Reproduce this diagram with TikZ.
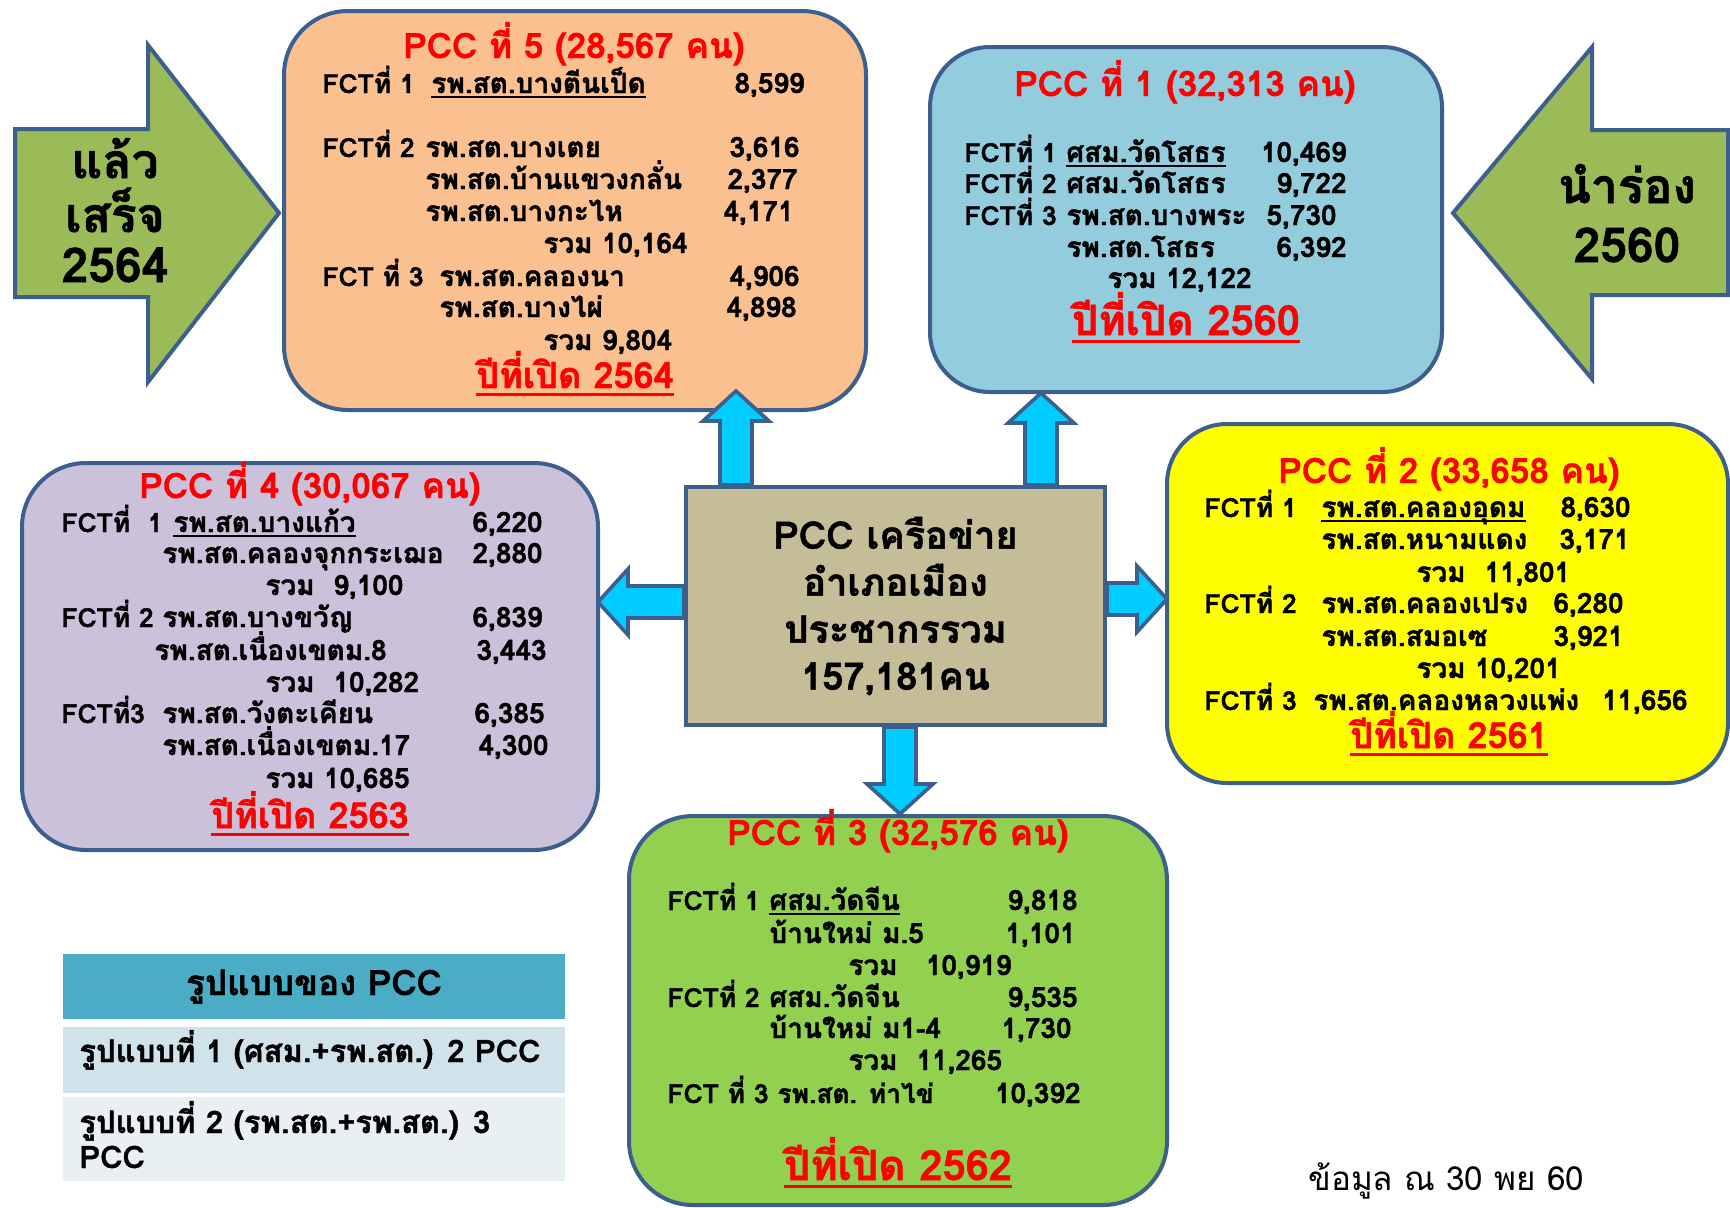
\documentclass[tikz,border=0pt]{standalone}
\usepackage{fontspec}
\setmainfont{Loma}[Script=Thai, BoldFeatures={FakeBold=1.3}]
\usepackage{tikz}
\usetikzlibrary{calc}

\definecolor{rim}{HTML}{3C5F8E}
\definecolor{peach}{HTML}{FAC090}
\definecolor{skyish}{HTML}{93CDDD}
\definecolor{lilac}{HTML}{CCC1DA}
\definecolor{lemon}{HTML}{FFFF00}
\definecolor{grass}{HTML}{92D050}
\definecolor{khaki}{HTML}{C4BD97}
\definecolor{leaf}{HTML}{9BBB59}
\definecolor{cyanlink}{HTML}{00CCFF}
\definecolor{headteal}{HTML}{4BACC6}
\definecolor{rowone}{HTML}{D0E3EA}
\definecolor{rowtwo}{HTML}{E9F0F4}

\newcommand\ulin[1]{\setbox0\hbox{#1}\rlap{\rule[-2.6pt]{\wd0}{1pt}}\box0}
\newcommand\ulyear[1]{\setbox0\hbox{#1}\rlap{\rule[-4pt]{\wd0}{1.5pt}}\box0}
\newcommand\fatlink[2]{%
  \path ($(#2)!15pt!(#1)$) coordinate (hb);
  \draw[link] ($(#1)!8pt!90:(#2)$) -- ($(hb)!8pt!-90:(#1)$) -- ($(hb)!16.5pt!-90:(#1)$) -- (#2)
    -- ($(hb)!16.5pt!90:(#1)$) -- ($(hb)!8pt!90:(#1)$) -- ($(#1)!8pt!-90:(#2)$) -- cycle;}

\tikzset{
  pcc/.style={draw=rim, line width=2pt, rounded corners=32pt, inner sep=0pt},
  bigarrow/.style={draw=rim, line width=2pt, fill=leaf, line join=miter},
  link/.style={draw=rim, line width=1.8pt, fill=cyanlink, line join=miter},
  row/.style={inner sep=0pt, font=\bfseries\fontsize{14}{16}\selectfont},
  lt/.style={row, anchor=base west},
  rt/.style={row, anchor=base east},
  fct/.style={lt, font=\bfseries\fontsize{13.2}{16}\selectfont},
  pcctitle/.style={inner sep=0pt, anchor=base, text=red, font=\bfseries\fontsize{17.5}{19}\selectfont},
  yearline/.style={inner sep=0pt, anchor=base, text=red, font=\bfseries\fontsize{18}{20}\selectfont},
  bignote/.style={inner sep=0pt, anchor=base, font=\bfseries\fontsize{24}{26}\selectfont},
  legend/.style={inner sep=0pt, font=\bfseries\fontsize{15.5}{17}\selectfont},
}

\begin{document}
\begin{tikzpicture}[x=0.5pt, y=-0.5pt]
  \useasboundingbox (0,0) rectangle (1730,1207);

  % big arrows
  \draw[bigarrow] (15,129) -- (148,129) -- (148,45) -- (279,213) -- (148,382) -- (148,297) -- (15,297) -- cycle;
  \draw[bigarrow] (1728,130) -- (1592,130) -- (1592,47) -- (1453,213) -- (1592,379) -- (1592,295) -- (1728,295) -- cycle;
  \node[bignote] (done1) at (115,178) {แล้ว};
  \node[bignote] (done2) at (115,232) {เสร็จ};
  \node[bignote] (done3) at (115,282) {2564};
  \node[bignote] (pilot1) at (1627,203) {นำร่อง};
  \node[bignote] (pilot2) at (1627,262) {2560};

  % PCC boxes
  \node[pcc, fill=peach, minimum width=291pt, minimum height=199.5pt] (p5) at (575,210.5) {};
  \node[pcc, fill=skyish, minimum width=256pt, minimum height=172.5pt, rounded corners=30pt] (p1) at (1186,219.5) {};
  \node[pcc, fill=lilac, minimum width=288pt, minimum height=193.5pt] (p4) at (310,656.5) {};
  \node[pcc, fill=lemon, minimum width=280.5pt, minimum height=179.5pt, rounded corners=30pt] (p2) at (1447.5,603.5) {};
  \node[pcc, fill=grass, minimum width=269pt, minimum height=194.5pt] (p3) at (898,1010.5) {};

  \node[draw=rim, line width=2pt, fill=khaki, minimum width=209.5pt, minimum height=119pt, inner sep=0pt,
        align=center, font=\bfseries\fontsize{19}{23.5}\selectfont] (ctr) at (895.5,606)
        {PCC เครือข่าย\\อำเภอเมือง\\ประชากรรวม\\157,181คน};

  % links from the centre
  \coordinate (t5) at (736,391);
  \coordinate (t1) at (1041,393);
  \coordinate (t2) at (1167,599);
  \coordinate (t4) at (598,602);
  \coordinate (t3) at (900,814);
  \coordinate (b5) at (t5 |- ctr.north);
  \coordinate (b1) at (t1 |- ctr.north);
  \coordinate (b2) at (ctr.east |- t2);
  \coordinate (b4) at (ctr.west |- t4);
  \coordinate (b3) at (t3 |- ctr.south);
  \fatlink{b5}{t5}
  \fatlink{b1}{t1}
  \fatlink{b2}{t2}
  \fatlink{b4}{t4}
  \fatlink{b3}{t3}

  % PCC 5
  \node[pcctitle] (p5t) at (574,58) {PCC ที่ 5 (28,567 คน)};
  \node[fct] (p5f1) at (322,93) {FCTที่ 1};
  \node[lt] (p5a) at (431,93) {\ulin{รพ.สต.บางตีนเป็ด}};
  \node[rt] (p5n1) at (805,93) {8,599};
  \node[fct] (p5f2) at (322,157) {FCTที่ 2};
  \node[lt] (p5b) at (425,157) {รพ.สต.บางเตย};
  \node[rt] (p5n2) at (800,157) {3,616};
  \node[lt] (p5c) at (425,189) {รพ.สต.บ้านแขวงกลั่น};
  \node[rt] (p5n3) at (798,189) {2,377};
  \node[lt] (p5d) at (425,221) {รพ.สต.บางกะไห};
  \node[rt] (p5n4) at (794,221) {4,171};
  \node[lt] (p5s2) at (543,253) {รวม 10,164};
  \node[fct] (p5f3) at (322,286) {FCT ที่ 3};
  \node[lt] (p5e) at (439,286) {รพ.สต.คลองนา};
  \node[rt] (p5n5) at (800,286) {4,906};
  \node[lt] (p5g) at (439,317) {รพ.สต.บางไผ่};
  \node[rt] (p5n6) at (797,317) {4,898};
  \node[lt] (p5s3) at (543,350) {รวม 9,804};
  \node[yearline] (p5y) at (575,388) {\ulyear{ปีที่เปิด 2564}};

  % PCC 1
  \node[pcctitle] (p1t) at (1185,96) {PCC ที่ 1 (32,313 คน)};
  \node[fct] (p1f1) at (964,162) {FCTที่ 1};
  \node[lt] (p1a) at (1066,162) {\ulin{ศสม.วัดโสธร}};
  \node[rt] (p1n1) at (1347,162) {10,469};
  \node[fct] (p1f2) at (964,193) {FCTที่ 2};
  \node[lt] (p1b) at (1066,193) {ศสม.วัดโสธร};
  \node[rt] (p1n2) at (1347,193) {9,722};
  \node[fct] (p1f3) at (964,225) {FCTที่ 3};
  \node[lt] (p1c) at (1066,225) {รพ.สต.บางพระ};
  \node[rt] (p1n3) at (1337,225) {5,730};
  \node[lt] (p1d) at (1066,257) {รพ.สต.โสธร};
  \node[rt] (p1n4) at (1347,257) {6,392};
  \node[lt] (p1s) at (1107,288) {รวม 12,122};
  \node[yearline, font=\bfseries\fontsize{20.8}{22}\selectfont] (p1y) at (1186,335) {\ulyear{ปีที่เปิด 2560}};

  % PCC 4
  \node[pcctitle] (p4t) at (310,498) {PCC ที่ 4 (30,067 คน)};
  \node[fct] (p4f1) at (61,532) {FCTที่ \ 1};
  \node[lt] (p4a) at (173,532) {\ulin{รพ.สต.บางแก้ว}};
  \node[rt] (p4n1) at (543,532) {6,220};
  \node[lt] (p4b) at (162,563) {รพ.สต.คลองจุกกระเฌอ};
  \node[rt] (p4n2) at (543,563) {2,880};
  \node[lt] (p4s1) at (265,595) {รวม \ 9,100};
  \node[fct] (p4f2) at (61,627) {FCTที่ 2};
  \node[lt] (p4c) at (162,627) {รพ.สต.บางขวัญ};
  \node[rt] (p4n3) at (543,627) {6,839};
  \node[lt] (p4d) at (154,660) {รพ.สต.เนื่องเขตม.8};
  \node[rt] (p4n4) at (547,660) {3,443};
  \node[lt] (p4s2) at (265,692) {รวม \ 10,282};
  \node[fct] (p4f3) at (61,723) {FCTที่3};
  \node[lt] (p4e) at (162,723) {รพ.สต.วังตะเคียน};
  \node[rt] (p4n5) at (545,723) {6,385};
  \node[lt] (p4g) at (162,755) {รพ.สต.เนื่องเขตม.17};
  \node[rt] (p4n6) at (549,755) {4,300};
  \node[lt] (p4s3) at (265,788) {รวม 10,685};
  \node[yearline] (p4y) at (310,828) {\ulyear{ปีที่เปิด 2563}};

  % PCC 2
  \node[pcctitle] (p2t) at (1449,483) {PCC ที่ 2 (33,658 คน)};
  \node[fct] (p2f1) at (1204,517) {FCTที่ 1};
  \node[lt] (p2a) at (1321,517) {\ulin{รพ.สต.คลองอุดม}};
  \node[rt] (p2n1) at (1631,517) {8,630};
  \node[lt] (p2b) at (1321,549) {รพ.สต.หนามแดง};
  \node[rt] (p2n2) at (1630,549) {3,171};
  \node[lt] (p2s1) at (1416,582) {รวม \ 11,801};
  \node[fct] (p2f2) at (1204,613) {FCTที่ 2};
  \node[lt] (p2c) at (1321,613) {รพ.สต.คลองเปรง};
  \node[rt] (p2n3) at (1624,613) {6,280};
  \node[lt] (p2d) at (1321,646) {รพ.สต.สมอเซ};
  \node[rt] (p2n4) at (1624,646) {3,921};
  \node[lt] (p2s2) at (1416,678) {รวม 10,201};
  \node[fct] (p2f3) at (1204,710) {FCTที่ 3};
  \node[lt] (p2e) at (1313,710) {รพ.สต.คลองหลวงแพ่ง};
  \node[rt] (p2n5) at (1688,710) {11,656};
  \node[yearline] (p2y) at (1449,748) {\ulyear{ปีที่เปิด 2561}};

  % PCC 3
  \node[pcctitle] (p3t) at (898,845) {PCC ที่ 3 (32,576 คน)};
  \node[fct] (p3f1) at (667,910) {FCTที่ 1};
  \node[lt] (p3a) at (769,910) {\ulin{ศสม.วัดจีน}};
  \node[rt] (p3n1) at (1078,910) {9,818};
  \node[lt] (p3b) at (769,943) {บ้านใหม่ ม.5};
  \node[rt] (p3n2) at (1076,943) {1,101};
  \node[lt] (p3s1) at (848,975) {รวม \ \ 10,919};
  \node[fct] (p3f2) at (667,1007) {FCTที่ 2};
  \node[lt] (p3c) at (769,1007) {ศสม.วัดจีน};
  \node[rt] (p3n3) at (1078,1007) {9,535};
  \node[lt] (p3d) at (769,1038) {บ้านใหม่ ม1-4};
  \node[rt] (p3n4) at (1072,1038) {1,730};
  \node[lt] (p3s2) at (848,1070) {รวม \ 11,265};
  \node[fct] (p3f3) at (667,1103) {FCT ที่ 3 รพ.สต. ท่าไข่};
  \node[rt] (p3n5) at (1081,1103) {10,392};
  \node[yearline, font=\bfseries\fontsize{20.8}{22}\selectfont] (p3y) at (898,1180) {\ulyear{ปีที่เปิด 2562}};

  % legend
  \fill[headteal] (63,954) rectangle (565,1019);
  \fill[rowone] (63,1027) rectangle (565,1093);
  \fill[rowtwo] (63,1097) rectangle (565,1181);
  \node[legend, anchor=base, font=\bfseries\fontsize{17.5}{19}\selectfont] (lgh) at (314,995) {รูปแบบของ PCC};
  \node[legend, anchor=base west] (lg1) at (79,1062) {รูปแบบที่ 1 (ศสม.+รพ.สต.) 2 PCC};
  \node[legend, anchor=base west] (lg2) at (79,1133) {รูปแบบที่ 2 (รพ.สต.+รพ.สต.) 3};
  \node[legend, anchor=base west] (lg3) at (79,1168) {PCC};

  \node[inner sep=0pt, anchor=base west, font=\fontsize{16.6}{18}\selectfont] (note) at (1308,1190) {ข้อมูล ณ 30 พย 60};
\end{tikzpicture}
\end{document}
